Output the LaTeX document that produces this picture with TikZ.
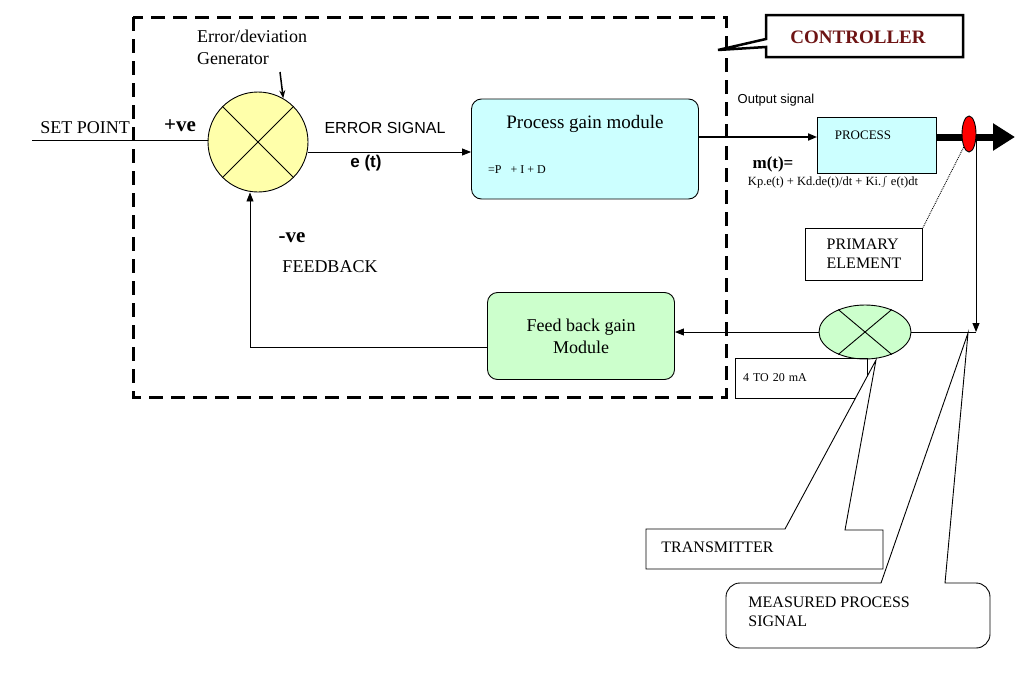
\documentclass[tikz,border=0pt]{standalone}
\usepackage{fontspec}
\setmainfont{Liberation Serif}[BoldFont={Liberation Serif Bold}]
\newfontfamily\sansf{Liberation Sans}[BoldFont={Liberation Sans Bold}]
\usetikzlibrary{arrows.meta,shapes.geometric}
\definecolor{sumyellow}{RGB}{255,255,170}
\definecolor{boxcyan}{RGB}{204,255,255}
\definecolor{boxgreen}{RGB}{204,255,204}
\definecolor{ctrlred}{RGB}{110,20,20}
\tikzset{
  sig/.style={-{Triangle[length=9pt,width=7pt]}},
  block/.style={draw,rounded corners=10pt,align=center,font=\fontsize{18}{22}\selectfont},
  lbl/.style={draw,align=left,font=\fontsize{14}{17}\selectfont,inner sep=0pt}
}
\begin{document}
\begin{tikzpicture}[x=1pt,y=-1pt,line width=0.9pt]
	\useasboundingbox (0,0) rectangle (1024,688);
	% Controller boundary
	\draw[line width=3pt,dash pattern=on 14pt off 8pt] (133,17) rectangle (726,397);
	\draw[line width=2.5pt,fill=white] (766,15) -- (963,15) -- (963,57) -- (766,57) -- (766,47) -- (718,50) -- (766,39) -- cycle;
	\node[font=\fontsize{19}{22}\selectfont\bfseries,text=ctrlred] (ctrl) at (858,37) {CONTROLLER};

	% Error generator
	\node[circle,draw,fill=sumyellow,minimum size=100pt,inner sep=0pt] (sum) at (258,142) {};
	\draw (sum.45) -- (sum.225) (sum.135) -- (sum.315);
	\node[align=left,font=\fontsize{18}{22}\selectfont] (gen) at (252,47) {Error/deviation\\Generator};
	\coordinate (gentip) at (280,72);
	\draw[-{Stealth[length=8pt]},line width=1.5pt] (gentip) -- (sum.60);

	% Set point input
	\coordinate (sp) at (32,140);
	\draw (sp) -- (sum.west |- sp);
	\node[anchor=west,inner sep=0pt,font=\fontsize{18}{22}\selectfont] at (40,128) {SET POINT};
	\node[font=\fontsize{21}{24}\selectfont\bfseries] at (180,126) {+ve};

	% Process gain module
	\node[block,fill=boxcyan,minimum width=227pt,minimum height=100pt] (pgm) at (585,149) {};
	\node[font=\fontsize{19}{22}\selectfont] at (585,124) {Process gain module};
	\node[font=\fontsize{12}{14}\selectfont] at (517,170) {=P \ \ + I + D};
	\draw[sig] (308,152) -- (pgm.west |- 0,152);
	\node[font=\sansf\fontsize{16}{19}\selectfont] at (385,128) {ERROR SIGNAL};
	\node[font=\sansf\fontsize{17}{20}\selectfont\bfseries] at (366,163) {e (t)};

	% Process
	\node[draw,fill=boxcyan,minimum width=119pt,minimum height=56pt] (proc) at (877,145) {};
	\node[font=\fontsize{13}{15}\selectfont] at (863,135) {PROCESS};
	\draw[sig,line width=1.8pt] (pgm.east |- 0,137) -- (proc.west |- 0,137);
	\node[font=\sansf\fontsize{13}{15}\selectfont] at (776,100) {Output signal};
	\node[font=\fontsize{17}{20}\selectfont\bfseries] at (773,164) {m(t)=};
	\node[font=\fontsize{12.5}{15}\selectfont] at (833,182) {Kp.e(t) + Kd.de(t)/dt + Ki.$\int$ e(t)dt};
	\coordinate (out) at (1015,137);
	\draw[line width=7pt,-{Triangle[length=22pt,width=26pt]}] (proc.east |- out) -- (out);
	\node[ellipse,draw,fill=red,minimum width=14pt,minimum height=36pt,inner sep=0pt] (pe) at (969,134) {};
	\node[lbl,font=\fontsize{16}{19}\selectfont,minimum width=117pt,minimum height=52pt,align=left] (prim) at (864,254) {PRIMARY\\ELEMENT};
	\draw[densely dotted] (pe.south west) -- (prim.north east);

	% Measurement path
	\coordinate (tap) at (976,137);
	\coordinate (junc) at (976,332);
	\draw[sig] (tap) -- (junc);
	\node[ellipse,draw,fill=boxgreen,minimum width=92pt,minimum height=54pt,inner sep=0pt] (tx) at (865,332) {};
	\draw (tx.40) -- (tx.220) (tx.140) -- (tx.320);
	\draw (junc) -- (tx.east);

	% Feedback gain module
	\node[block,fill=boxgreen,minimum width=187pt,minimum height=87pt] (fbm) at (581,336) {Feed back gain\\Module};
	\draw[sig] (tx.west) -- (fbm.east |- tx.west);
	\coordinate (fbc) at (250,347);
	\draw[sig] (fbm.west |- fbc) -- (fbc) -- (sum.south -| fbc);
	\node[font=\fontsize{21}{24}\selectfont\bfseries] at (292,238) {-ve};
	\node[font=\fontsize{18}{22}\selectfont] at (330,267) {FEEDBACK};

	% Labels
	\node[lbl,font=\fontsize{12}{14}\selectfont,minimum width=132pt,minimum height=40pt,text width=116pt] (ma) at (801,378) {4 TO 20 mA};
	\draw[fill=white] (646,529) -- (785,529) -- (876,360) -- (845,530) -- (883,530) -- (883,569) -- (646,569) -- cycle;
	\node[anchor=west,inner sep=0pt,font=\fontsize{16}{19}\selectfont] (trans) at (661,547) {TRANSMITTER};
	\draw[fill=white] (881,583) -- (968,333) -- (945,583) [rounded corners=14pt] -- (990,583) -- (990,648) -- (726,648) -- (726,583) [sharp corners] -- cycle;
	\node[anchor=west,inner sep=0pt,align=left,font=\fontsize{16}{19}\selectfont] (meas) at (748,612) {MEASURED PROCESS\\SIGNAL};
\end{tikzpicture}
\end{document}
